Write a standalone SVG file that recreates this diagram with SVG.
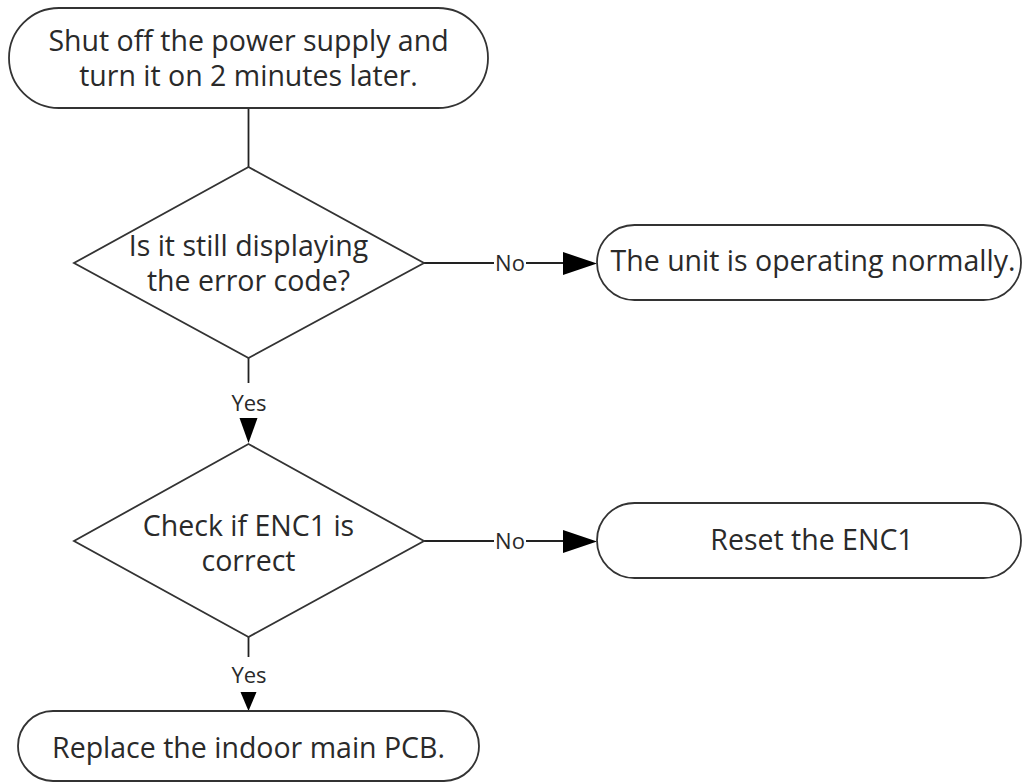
<svg xmlns="http://www.w3.org/2000/svg" width="1023" height="783" viewBox="0 0 1023 783">
  <style>
    .node { fill: #ffffff; stroke: #333333; stroke-width: 1.8; }
    .txt { font-family: "Open Sans", "Liberation Sans", sans-serif; font-size: 28.5px; fill: #2a2a2a; text-anchor: middle; }
    .lbl { font-family: "Open Sans", "Liberation Sans", sans-serif; font-size: 22px; fill: #2a2a2a; text-anchor: middle; }
    .edge { stroke: #222222; stroke-width: 1.8; fill: none; }
    .head { fill: #000000; stroke: none; }
  </style>
  <rect width="1023" height="783" fill="#ffffff"/>

  <g id="connectors">
    <line class="edge" x1="248.5" y1="108" x2="248.5" y2="167"/>
    <!-- decision 1 No -->
    <line class="edge" x1="424" y1="263" x2="494" y2="263"/>
    <text class="lbl" x="510" y="271">No</text>
    <line class="edge" x1="526" y1="263" x2="566" y2="263"/>
    <polygon class="head" points="563,252 597,263.5 563,275"/>
    <!-- decision 1 Yes -->
    <line class="edge" x1="248.5" y1="358" x2="248.5" y2="383"/>
    <text class="lbl" x="249" y="411">Yes</text>
    <polygon class="head" points="239.5,418 257.5,418 248.5,443"/>
    <!-- decision 2 No -->
    <line class="edge" x1="424" y1="541" x2="494" y2="541"/>
    <text class="lbl" x="510" y="549">No</text>
    <line class="edge" x1="526" y1="541" x2="566" y2="541"/>
    <polygon class="head" points="563,530 597,541.5 563,553"/>
    <!-- decision 2 Yes -->
    <line class="edge" x1="248.5" y1="637" x2="248.5" y2="657"/>
    <text class="lbl" x="249" y="683">Yes</text>
    <polygon class="head" points="240.5,692 256.5,692 248.5,711"/>
  </g>

  <g id="start">
    <rect class="node" x="9" y="8" width="479" height="100" rx="50" ry="50"/>
    <text class="txt" x="248.5" y="51">Shut off the power supply and<tspan x="248.5" dy="35">turn it on 2 minutes later.</tspan></text>
  </g>

  <g id="decision1">
    <polygon class="node" points="248.5,167 424,263 248.5,358 74,263"/>
    <text class="txt" x="248.5" y="255.5">Is it still displaying<tspan x="248.5" dy="35">the error code?</tspan></text>
  </g>

  <g id="normal">
    <rect class="node" x="597" y="225" width="424" height="75" rx="37.5" ry="37.5"/>
    <text class="txt" x="813" y="271">The unit is operating normally.</text>
  </g>

  <g id="decision2">
    <polygon class="node" points="248.5,444 424,541 248.5,637 74,541"/>
    <text class="txt" x="248.5" y="535.5">Check if ENC1 is<tspan x="248.5" dy="35">correct</tspan></text>
  </g>

  <g id="reset">
    <rect class="node" x="597" y="503" width="424" height="75" rx="37.5" ry="37.5"/>
    <text class="txt" x="812" y="550">Reset the ENC1</text>
  </g>

  <g id="replace">
    <rect class="node" x="18" y="711" width="461" height="70" rx="35" ry="35"/>
    <text class="txt" x="248.5" y="758">Replace the indoor main PCB.</text>
  </g>
</svg>
